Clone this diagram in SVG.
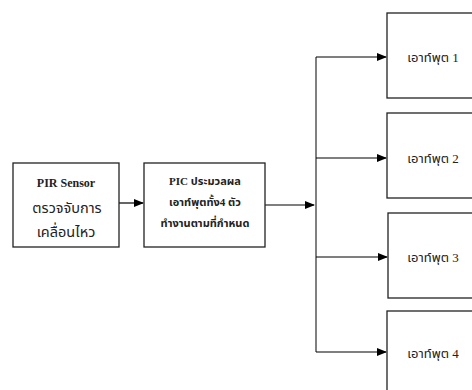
<svg xmlns="http://www.w3.org/2000/svg" width="472" height="390" viewBox="0 0 472 390">
<defs>
<marker id="ah" markerWidth="10" markerHeight="8" refX="9" refY="4" orient="auto" markerUnits="userSpaceOnUse">
<path d="M0,0 L10,4 L0,8 Z" fill="#000"/>
</marker>
<style>
.box{fill:#fff;stroke:#222;stroke-width:1.3}
.t{font-family:"Liberation Serif","Noto Sans Thai","Noto Sans",serif;fill:#222;text-anchor:middle}
.b{font-weight:bold;font-size:11px}
.p{font-weight:bold;font-size:12px}
.th{font-size:14.5px}
.o{font-size:13px}
.ln{stroke:#000;stroke-width:1.2;fill:none}
.bus{stroke:#808080;stroke-width:2;fill:none}
</style>
</defs>
<rect width="472" height="390" fill="#fff"/>
<g id="connectors">
<line class="ln" x1="119" y1="203" x2="143" y2="203" marker-end="url(#ah)"/>
<line class="ln" x1="265" y1="205" x2="314" y2="205" marker-end="url(#ah)"/>
<line class="bus" x1="316" y1="57" x2="316" y2="352"/>
<line class="ln" x1="316" y1="57" x2="386" y2="57" marker-end="url(#ah)"/>
<line class="ln" x1="316" y1="158" x2="386" y2="158" marker-end="url(#ah)"/>
<line class="ln" x1="316" y1="257" x2="387" y2="257" marker-end="url(#ah)"/>
<line class="ln" x1="316" y1="352" x2="386" y2="352" marker-end="url(#ah)"/>
</g>
<g id="pir">
<rect class="box" x="13" y="163" width="106" height="84"/>
<text class="t p" x="66" y="187">PIR Sensor</text>
<text class="t th" x="67" y="213">ตรวจจับการ</text>
<text class="t th" x="66" y="237">เคลื่อนไหว</text>
</g>
<g id="pic">
<rect class="box" x="144" y="163" width="121" height="84"/>
<text class="t b" x="205" y="185">PIC ประมวลผล</text>
<text class="t b" x="205" y="206">เอาท์พุตทั้ง4 ตัว</text>
<text class="t b" x="205" y="227">ทำงานตามที่กำหนด</text>
</g>
<g id="out1">
<rect class="box" x="387" y="13" width="95" height="85"/>
<text class="t o" x="433" y="62">เอาท์พุต 1</text>
</g>
<g id="out2">
<rect class="box" x="387" y="113" width="95" height="85"/>
<text class="t o" x="433" y="163">เอาท์พุต 2</text>
</g>
<g id="out3">
<rect class="box" x="388" y="213" width="95" height="85"/>
<text class="t o" x="433" y="262">เอาท์พุต 3</text>
</g>
<g id="out4">
<rect class="box" x="387" y="311" width="95" height="85"/>
<text class="t o" x="433" y="358">เอาท์พุต 4</text>
</g>
</svg>
